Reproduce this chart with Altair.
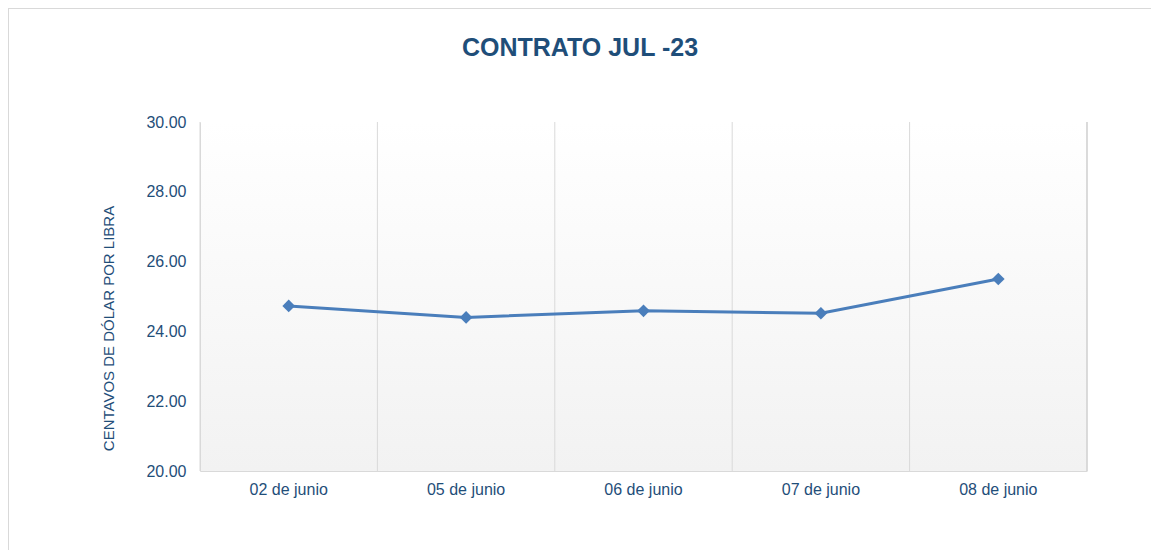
import altair as alt
import pandas as pd

fechas = ["02 de junio", "05 de junio", "06 de junio", "07 de junio", "08 de junio"]
precios = [24.73, 24.40, 24.59, 24.52, 25.50]
titulo = "CONTRATO JUL -23"
eje_y = "CENTAVOS DE DÓLAR POR LIBRA"

df = pd.DataFrame({"fecha": fechas, "precio": precios})

W, H = 887, 349
TXT = "#1F4E79"
FONT = "Liberation Sans"
GRID = "#d9d9d9"

bg = alt.Chart(df).mark_rect(
    color=alt.LinearGradient(
        gradient="linear", x1=0, x2=0, y1=0, y2=1,
        stops=[alt.GradientStop(color="#ffffff", offset=0),
               alt.GradientStop(color="#f2f2f2", offset=1)]
    )
).encode(x=alt.value(0), x2=alt.value(W), y=alt.value(0), y2=alt.value(H))

border = alt.Chart(df).mark_rect(fill=None, stroke="#d9d9d9", strokeWidth=1).encode(
    x=alt.value(-191.5), x2=alt.value(952.5), y=alt.value(-113.5), y2=alt.value(H + 100)
)

xenc = alt.X("fecha:N", sort=fechas, title=None,
             scale=alt.Scale(paddingInner=0, paddingOuter=0),
             axis=alt.Axis(grid=False, domainColor=GRID, ticks=False, labelAngle=0,
                           bandPosition=0.5, labelAlign="center", labelBaseline="top",
                           labelFont=FONT, labelFontSize=16, labelColor=TXT,
                           labelPadding=10, zindex=1))
yenc = alt.Y("precio:Q", title=eje_y,
             scale=alt.Scale(domain=[20, 30], nice=False, zero=False),
             axis=alt.Axis(values=[20, 22, 24, 26, 28, 30], format=".2f", grid=False,
                           ticks=False, domainColor=GRID, labelFont=FONT,
                           labelFontSize=16, labelColor=TXT, labelPadding=14,
                           titleFont=FONT, titleFontSize=15, titleColor=TXT,
                           titleFontWeight="normal", titleX=-92, titleY=206,
                           titleAngle=-90, titleBaseline="middle", titleAlign="center",
                           zindex=1))

grid = alt.Chart(df).mark_rule(color=GRID, strokeWidth=1).encode(
    x=alt.X("fecha:N", sort=fechas, bandPosition=0), y=alt.value(0), y2=alt.value(H))
grid_end = alt.Chart(df).mark_rule(color=GRID, strokeWidth=1).encode(
    x=alt.value(W), y=alt.value(0), y2=alt.value(H))

line = alt.Chart(df).mark_line(color="#4a7ebb", strokeWidth=3).encode(x=xenc, y=yenc)
pts = alt.Chart(df).mark_point(shape="diamond", filled=True, size=160, color="#4a7ebb", opacity=1).encode(
    x=alt.X("fecha:N", sort=fechas), y="precio:Q")

title = alt.Chart(pd.DataFrame({"t": [titulo]})).mark_text(
    font=FONT, fontSize=25, fontWeight="bold", color=TXT, baseline="middle", align="center"
).encode(text="t:N", x=alt.value(380), y=alt.value(-74))

chart = alt.layer(bg, border, grid, grid_end, line, pts, title).properties(
    width=W, height=H,
    autosize=alt.AutoSizeParams(type="none"),
    padding={"left": 192, "top": 114, "right": 64, "bottom": 79},
    background="white",
).configure_view(stroke=None)

chart.save("out.html", embed_options={"renderer": "svg", "actions": False})
